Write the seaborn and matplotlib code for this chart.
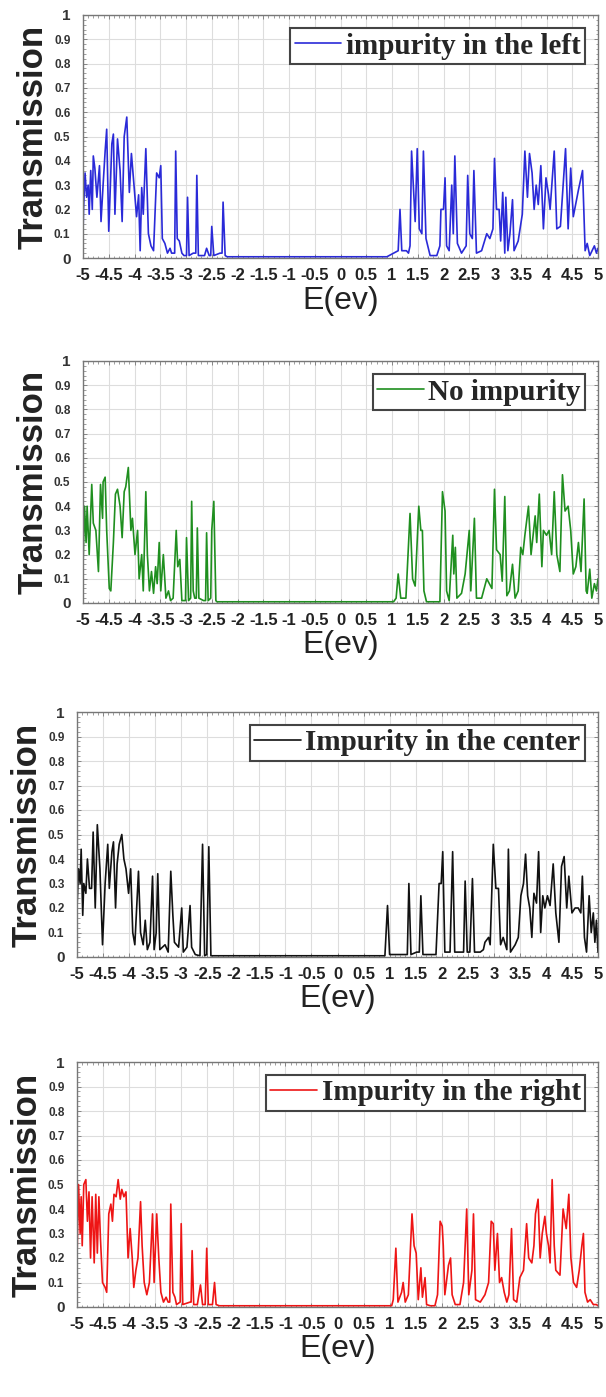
import numpy as np
import pandas as pd
import matplotlib
matplotlib.use("Agg")
import matplotlib.pyplot as plt
import seaborn as sns
from matplotlib.ticker import MultipleLocator

# -------------------------------
# Data (energy in eV, transmission)
# -------------------------------
e_left = [
    -5.00, -4.99, -4.96, -4.93, -4.90, -4.88, -4.85, -4.82, -4.80, -4.77,
    -4.73, -4.68, -4.65, -4.61, -4.57, -4.54, -4.50, -4.44, -4.41, -4.38,
    -4.33, -4.28, -4.24, -4.20, -4.15, -4.10, -4.06, -4.01, -3.96, -3.92,
    -3.89, -3.86, -3.83, -3.78, -3.73, -3.68, -3.63, -3.57, -3.52, -3.49,
    -3.46, -3.41, -3.36, -3.31, -3.28, -3.22, -3.20, -3.17, -3.13, -3.08,
    -3.04, -2.99, -2.97, -2.94, -2.86, -2.81, -2.79, -2.76, -2.64, -2.60,
    -2.55, -2.52, -2.50, -2.46, -2.34, -2.30, -2.28, -2.24, -2.20, 0.90,
    1.03, 1.12, 1.155, 1.19, 1.28, 1.32, 1.35, 1.38, 1.45, 1.49,
    1.53, 1.58, 1.61, 1.66, 1.74, 1.87, 1.93, 1.95, 2.00, 2.03,
    2.06, 2.11, 2.16, 2.19, 2.22, 2.27, 2.35, 2.44, 2.47, 2.51,
    2.56, 2.59, 2.64, 2.74, 2.84, 2.90, 2.96, 2.99, 3.03, 3.08,
    3.11, 3.15, 3.19, 3.21, 3.25, 3.29, 3.34, 3.37, 3.45, 3.53,
    3.58, 3.63, 3.67, 3.72, 3.76, 3.80, 3.84, 3.89, 3.94, 3.99,
    4.04, 4.07, 4.15, 4.20, 4.27, 4.37, 4.42, 4.47, 4.52, 4.62,
    4.70, 4.75, 4.79, 4.84, 4.93, 4.97, 5.00]
t_left = [
    0.10, 0.20, 0.35, 0.25, 0.30, 0.18, 0.36, 0.20, 0.42, 0.37,
    0.25, 0.38, 0.15, 0.30, 0.44, 0.53, 0.11, 0.47, 0.51, 0.18,
    0.49, 0.36, 0.15, 0.50, 0.58, 0.27, 0.43, 0.30, 0.17, 0.26,
    0.03, 0.29, 0.18, 0.45, 0.10, 0.05, 0.03, 0.35, 0.33, 0.38,
    0.08, 0.06, 0.02, 0.04, 0.02, 0.02, 0.44, 0.08, 0.07, 0.02,
    0.01, 0.01, 0.25, 0.01, 0.02, 0.02, 0.34, 0.01, 0.01, 0.04,
    0.01, 0.01, 0.13, 0.01, 0.02, 0.02, 0.23, 0.01, 0.005, 0.005,
    0.02, 0.03, 0.20, 0.03, 0.03, 0.02, 0.05, 0.44, 0.15, 0.45,
    0.12, 0.10, 0.44, 0.08, 0.01, 0.01, 0.05, 0.20, 0.20, 0.33,
    0.05, 0.03, 0.30, 0.10, 0.42, 0.06, 0.02, 0.05, 0.34, 0.10,
    0.08, 0.36, 0.02, 0.03, 0.10, 0.08, 0.12, 0.41, 0.20, 0.20,
    0.07, 0.27, 0.02, 0.25, 0.03, 0.10, 0.24, 0.03, 0.07, 0.18,
    0.44, 0.25, 0.43, 0.35, 0.20, 0.30, 0.22, 0.38, 0.12, 0.33,
    0.26, 0.20, 0.44, 0.12, 0.13, 0.45, 0.12, 0.37, 0.17, 0.28,
    0.36, 0.03, 0.06, 0.01, 0.05, 0.02, 0.04]

e_none = [
    -5.00, -4.97, -4.94, -4.92, -4.88, -4.83, -4.80, -4.75, -4.70, -4.66,
    -4.62, -4.61, -4.57, -4.54, -4.49, -4.46, -4.41, -4.37, -4.33, -4.28,
    -4.24, -4.20, -4.17, -4.12, -4.07, -4.04, -3.99, -3.94, -3.91, -3.86,
    -3.83, -3.78, -3.75, -3.71, -3.67, -3.63, -3.59, -3.56, -3.52, -3.49,
    -3.44, -3.39, -3.34, -3.30, -3.25, -3.19, -3.16, -3.12, -3.08, -3.01,
    -2.99, -2.95, -2.91, -2.89, -2.86, -2.83, -2.80, -2.78, -2.75, -2.66,
    -2.62, -2.60, -2.57, -2.52, -2.50, -2.46, -2.42, -2.40, 1.03, 1.08,
    1.12, 1.17, 1.27, 1.35, 1.40, 1.45, 1.52, 1.56, 1.59, 1.62,
    1.67, 1.93, 1.98, 2.03, 2.06, 2.11, 2.18, 2.20, 2.23, 2.26,
    2.35, 2.42, 2.50, 2.53, 2.60, 2.64, 2.74, 2.84, 2.94, 2.99,
    3.03, 3.10, 3.14, 3.19, 3.23, 3.28, 3.34, 3.39, 3.45, 3.50,
    3.54, 3.58, 3.65, 3.70, 3.78, 3.81, 3.86, 3.91, 3.94, 4.00,
    4.05, 4.10, 4.15, 4.20, 4.26, 4.31, 4.36, 4.42, 4.47, 4.52,
    4.57, 4.62, 4.67, 4.73, 4.77, 4.79, 4.84, 4.88, 4.93, 4.97, 5.00]
t_none = [
    0.15, 0.40, 0.25, 0.40, 0.20, 0.49, 0.33, 0.30, 0.13, 0.49,
    0.35, 0.50, 0.52, 0.30, 0.06, 0.05, 0.25, 0.45, 0.47, 0.40,
    0.27, 0.46, 0.48, 0.56, 0.30, 0.35, 0.20, 0.30, 0.10, 0.20,
    0.05, 0.46, 0.20, 0.05, 0.13, 0.04, 0.15, 0.08, 0.25, 0.05,
    0.20, 0.02, 0.05, 0.01, 0.02, 0.30, 0.15, 0.18, 0.01, 0.01,
    0.27, 0.01, 0.02, 0.42, 0.05, 0.02, 0.02, 0.31, 0.02, 0.01,
    0.01, 0.29, 0.01, 0.02, 0.30, 0.42, 0.01, 0.005, 0.005, 0.02,
    0.12, 0.02, 0.02, 0.37, 0.10, 0.07, 0.40, 0.30, 0.30, 0.05,
    0.005, 0.005, 0.46, 0.38, 0.05, 0.01, 0.28, 0.12, 0.23, 0.02,
    0.04, 0.12, 0.30, 0.05, 0.35, 0.02, 0.02, 0.10, 0.06, 0.47,
    0.22, 0.20, 0.09, 0.44, 0.03, 0.05, 0.16, 0.02, 0.05, 0.23,
    0.20, 0.28, 0.40, 0.20, 0.36, 0.25, 0.45, 0.15, 0.30, 0.28,
    0.30, 0.20, 0.46, 0.20, 0.13, 0.53, 0.38, 0.40, 0.30, 0.12,
    0.15, 0.25, 0.13, 0.43, 0.05, 0.04, 0.14, 0.02, 0.08, 0.05, 0.10]

e_center = [
    -5.00, -4.97, -4.94, -4.92, -4.89, -4.87, -4.83, -4.80, -4.76, -4.72,
    -4.69, -4.65, -4.61, -4.56, -4.51, -4.46, -4.41, -4.38, -4.33, -4.30,
    -4.26, -4.23, -4.19, -4.14, -4.10, -4.06, -4.01, -3.97, -3.93, -3.89,
    -3.82, -3.78, -3.73, -3.69, -3.65, -3.60, -3.55, -3.52, -3.48, -3.45,
    -3.41, -3.36, -3.31, -3.25, -3.20, -3.16, -3.13, -3.09, -3.05, -2.99,
    -2.96, -2.89, -2.83, -2.80, -2.73, -2.64, -2.59, -2.55, -2.51, -2.47,
    -2.43, 0.91, 0.96, 1.00, 1.23, 1.34, 1.37, 1.41, 1.52, 1.57,
    1.60, 1.64, 1.89, 1.95, 1.99, 2.02, 2.06, 2.16, 2.21, 2.25,
    2.35, 2.42, 2.45, 2.49, 2.54, 2.59, 2.63, 2.74, 2.80, 2.83,
    2.90, 2.93, 2.99, 3.04, 3.09, 3.13, 3.18, 3.25, 3.28, 3.32,
    3.41, 3.47, 3.52, 3.57, 3.61, 3.65, 3.69, 3.73, 3.77, 3.82,
    3.86, 3.90, 3.94, 3.98, 4.03, 4.08, 4.14, 4.19, 4.25, 4.30,
    4.35, 4.40, 4.44, 4.50, 4.56, 4.62, 4.67, 4.70, 4.74, 4.78,
    4.83, 4.87, 4.91, 4.94, 4.97, 5.00]
t_center = [
    0.20, 0.36, 0.30, 0.44, 0.17, 0.30, 0.26, 0.40, 0.28, 0.28,
    0.51, 0.20, 0.54, 0.36, 0.05, 0.30, 0.46, 0.28, 0.43, 0.47,
    0.20, 0.38, 0.46, 0.50, 0.40, 0.36, 0.26, 0.36, 0.10, 0.05,
    0.35, 0.10, 0.05, 0.15, 0.03, 0.06, 0.33, 0.03, 0.10, 0.34,
    0.03, 0.04, 0.05, 0.02, 0.35, 0.17, 0.06, 0.05, 0.04, 0.20,
    0.02, 0.04, 0.21, 0.04, 0.01, 0.005, 0.46, 0.005, 0.01, 0.45,
    0.005, 0.005, 0.21, 0.01, 0.01, 0.01, 0.30, 0.01, 0.02, 0.02,
    0.25, 0.01, 0.01, 0.30, 0.30, 0.43, 0.02, 0.02, 0.43, 0.02,
    0.02, 0.02, 0.31, 0.02, 0.02, 0.32, 0.02, 0.02, 0.03, 0.06,
    0.08, 0.05, 0.46, 0.28, 0.28, 0.05, 0.08, 0.03, 0.44, 0.02,
    0.05, 0.08, 0.25, 0.30, 0.42, 0.25, 0.20, 0.08, 0.26, 0.22,
    0.43, 0.10, 0.25, 0.20, 0.25, 0.21, 0.38, 0.18, 0.06, 0.37,
    0.41, 0.20, 0.33, 0.18, 0.20, 0.20, 0.18, 0.33, 0.08, 0.02,
    0.25, 0.10, 0.18, 0.06, 0.15, 0.02]

e_right = [
    -5.00, -4.97, -4.94, -4.92, -4.90, -4.87, -4.83, -4.80, -4.77, -4.74,
    -4.71, -4.67, -4.64, -4.61, -4.58, -4.55, -4.51, -4.46, -4.43, -4.39,
    -4.35, -4.32, -4.29, -4.25, -4.21, -4.17, -4.14, -4.10, -4.06, -4.02,
    -3.98, -3.94, -3.91, -3.87, -3.83, -3.78, -3.75, -3.71, -3.66, -3.61,
    -3.55, -3.52, -3.47, -3.43, -3.39, -3.34, -3.29, -3.25, -3.22, -3.20,
    -3.16, -3.12, -3.09, -3.02, -3.00, -2.97, -2.83, -2.81, -2.79, -2.76,
    -2.69, -2.63, -2.59, -2.54, -2.51, -2.48, -2.40, -2.36, -2.33, -2.27,
    1.04, 1.07, 1.12, 1.16, 1.23, 1.26, 1.30, 1.36, 1.43, 1.47,
    1.51, 1.55, 1.60, 1.63, 1.68, 1.71, 1.78, 1.87, 1.92, 1.97,
    2.01, 2.03, 2.06, 2.13, 2.17, 2.20, 2.26, 2.35, 2.42, 2.48,
    2.52, 2.58, 2.61, 2.65, 2.74, 2.83, 2.90, 2.95, 2.99, 3.02,
    3.07, 3.11, 3.15, 3.20, 3.25, 3.29, 3.34, 3.38, 3.44, 3.50,
    3.57, 3.63, 3.67, 3.73, 3.77, 3.80, 3.85, 3.89, 3.93, 3.98,
    4.01, 4.05, 4.08, 4.12, 4.16, 4.19, 4.27, 4.33, 4.39, 4.44,
    4.48, 4.53, 4.59, 4.64, 4.69, 4.72, 4.75, 4.80, 4.85, 4.91,
    4.97, 5.00]
t_right = [
    0.20, 0.50, 0.30, 0.45, 0.25, 0.50, 0.52, 0.35, 0.47, 0.20,
    0.45, 0.18, 0.46, 0.22, 0.45, 0.28, 0.10, 0.08, 0.06, 0.38,
    0.42, 0.35, 0.46, 0.45, 0.52, 0.44, 0.48, 0.45, 0.47, 0.20,
    0.32, 0.20, 0.08, 0.15, 0.20, 0.43, 0.25, 0.10, 0.05, 0.10,
    0.38, 0.10, 0.38, 0.20, 0.06, 0.02, 0.04, 0.02, 0.02, 0.42,
    0.06, 0.04, 0.01, 0.02, 0.34, 0.01, 0.02, 0.02, 0.23, 0.01,
    0.01, 0.09, 0.01, 0.01, 0.24, 0.01, 0.01, 0.10, 0.01, 0.005,
    0.005, 0.03, 0.24, 0.02, 0.06, 0.10, 0.02, 0.05, 0.38, 0.25,
    0.22, 0.03, 0.16, 0.04, 0.12, 0.01, 0.005, 0.005, 0.05, 0.35,
    0.33, 0.25, 0.05, 0.17, 0.20, 0.05, 0.01, 0.01, 0.10, 0.40,
    0.05, 0.15, 0.38, 0.03, 0.02, 0.05, 0.10, 0.35, 0.34, 0.15,
    0.30, 0.10, 0.12, 0.06, 0.02, 0.05, 0.32, 0.03, 0.02, 0.12,
    0.15, 0.34, 0.20, 0.18, 0.25, 0.38, 0.44, 0.20, 0.30, 0.37,
    0.30, 0.25, 0.18, 0.52, 0.25, 0.15, 0.13, 0.40, 0.32, 0.46,
    0.20, 0.10, 0.08, 0.15, 0.25, 0.30, 0.06, 0.02, 0.03, 0.01,
    0.01, 0.005]

labels = ["impurity in the left", "No impurity",
          "Impurity in the center", "Impurity in the right"]
colors = ["#2a2ad8", "#1f8f1f", "#111111", "#ee1515"]
x_ticks = np.arange(-5, 5.01, 0.5)
y_ticks = np.arange(0, 1.01, 0.1)

series = [(e_left, t_left), (e_none, t_none),
          (e_center, t_center), (e_right, t_right)]

# -------------------------------
# Figure layout (pixel boxes: left, top, right, bottom)
# -------------------------------
W, H = 606, 1397
boxes = [(83, 15, 598, 258), (83, 361, 598, 603),
         (77, 712, 598, 957), (77, 1062, 598, 1307)]

sns.set_theme(style="whitegrid")
plt.rcParams["font.family"] = ["Liberation Sans", "DejaVu Sans"]

fig = plt.figure(figsize=(W / 100, H / 100), dpi=100)

for (e, t), lab, col, (l, tp, r, b) in zip(series, labels, colors, boxes):
    assert len(e) == len(t)
    ax = fig.add_axes([l / W, 1 - b / H, (r - l) / W, (b - tp) / H])
    df = pd.DataFrame({"E": e, "T": t})
    sns.lineplot(data=df, x="E", y="T", ax=ax, color=col, lw=1.2,
                 estimator=None, sort=False, label=lab)

    ax.set_xlim(-5, 5)
    ax.set_ylim(0, 1)
    ax.set_xticks(x_ticks)
    ax.set_xticklabels([f"{v:g}" for v in x_ticks], fontsize=12,
                       fontweight="bold", color="#222222")
    ax.set_yticks(y_ticks)
    ylabs = ax.set_yticklabels([f"{v:.1f}" if 0 < v < 0.99 else f"{v:g}"
                                for v in y_ticks],
                               fontsize=8.5, fontweight="bold", color="#333333")
    ylabs[0].set_fontsize(11)
    ylabs[-1].set_fontsize(11)
    ax.xaxis.set_minor_locator(MultipleLocator(0.1))
    ax.yaxis.set_minor_locator(MultipleLocator(0.02))
    ax.tick_params(which="both", direction="in", top=True, right=True,
                   bottom=True, left=True, color="#777777")
    ax.tick_params(which="major", length=3, width=0.6)
    ax.tick_params(which="minor", length=1.8, width=0.5)
    ax.tick_params(axis="x", which="major", pad=7)
    ax.tick_params(axis="y", which="major", pad=9)
    ax.grid(True, which="major", color="#dddddd", lw=0.8)
    for sp in ax.spines.values():
        sp.set_color("#777777")
        sp.set_linewidth(1.0)

    ax.set_xlabel("E(ev)", fontsize=23, labelpad=2, color="#222222")
    ax.set_ylabel("Transmission", fontsize=25, fontweight="bold",
                  labelpad=3, color="#222222")

    leg = ax.legend(loc="upper right", fancybox=False, framealpha=1,
                    edgecolor="#444444", handlelength=1.6, handletextpad=0.15,
                    borderpad=0.15, borderaxespad=0.45,
                    prop={"family": "Liberation Serif", "weight": "bold",
                          "size": 21})
    leg.get_frame().set_linewidth(1.5)

fig.savefig("out.png", dpi=100)
